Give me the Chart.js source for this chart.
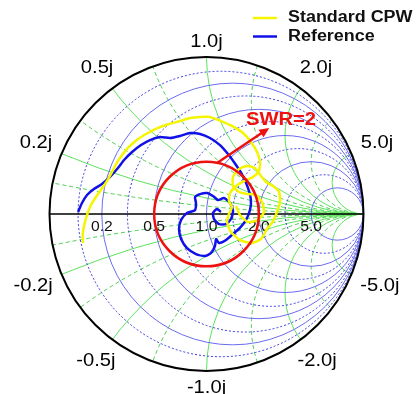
<!DOCTYPE html>
<html>
<head>
<meta charset="utf-8">
<script src="https://cdn.jsdelivr.net/npm/chart.js@4/dist/chart.umd.min.js"></script>
<style>
  html, body { margin: 0; padding: 0; background: #fff; }
  canvas { display: block; }
</style>
</head>
<body>
<canvas id="smith" width="417" height="394"></canvas>
<script>
// reflection coefficient traces (real / imaginary part of S11)
const cpwRe = [-0.787, -0.787, -0.767, -0.736, -0.691, -0.646, -0.608, -0.576, -0.538, -0.494,
  -0.436, -0.373, -0.309, -0.239, -0.169, -0.105, -0.041, 0.022, 0.092, 0.162,
  0.232, 0.283, 0.322, 0.341, 0.334, 0.296, 0.239, 0.188, 0.150, 0.143,
  0.162, 0.143, 0.131, 0.156, 0.213, 0.290, 0.347, 0.385, 0.424, 0.449,
  0.468, 0.462, 0.424, 0.379, 0.347, 0.309, 0.258, 0.207, 0.169, 0.169,
  0.207, 0.264, 0.315, 0.354, 0.366, 0.328, 0.264, 0.213, 0.188];
const cpwIm = [-0.185, -0.115, -0.025, 0.057, 0.127, 0.191, 0.255, 0.318, 0.376, 0.427,
  0.478, 0.516, 0.548, 0.573, 0.592, 0.611, 0.618, 0.618, 0.592, 0.561,
  0.516, 0.459, 0.395, 0.331, 0.274, 0.236, 0.210, 0.178, 0.134, 0.083,
  0.045, 0.000, -0.051, -0.115, -0.166, -0.185, -0.159, -0.096, -0.045, 0.013,
  0.076, 0.140, 0.178, 0.204, 0.242, 0.293, 0.306, 0.287, 0.236, 0.178,
  0.140, 0.127, 0.121, 0.076, 0.013, -0.038, -0.051, -0.006, 0.051];

const refRe = [-0.818, -0.793, -0.761, -0.717, -0.666, -0.615, -0.564, -0.525, -0.474, -0.417,
  -0.360, -0.296, -0.232, -0.169, -0.105, -0.041, 0.022, 0.086, 0.137, 0.188,
  0.232, 0.264, 0.283, 0.277, 0.252, 0.213, 0.169, 0.124, 0.080, 0.061,
  0.054, 0.029, -0.010, -0.067, -0.124, -0.162, -0.175, -0.162, -0.124, -0.073,
  -0.067, -0.073, -0.041, 0.003, 0.041, 0.073, 0.111, 0.150, 0.169, 0.156,
  0.124, 0.080, 0.048, 0.041, 0.067, 0.092];
const refIm = [0.013, 0.070, 0.121, 0.159, 0.191, 0.236, 0.293, 0.344, 0.395, 0.439,
  0.471, 0.490, 0.484, 0.497, 0.516, 0.510, 0.484, 0.439, 0.382, 0.312,
  0.242, 0.166, 0.089, 0.025, -0.038, -0.089, -0.127, -0.166, -0.185, -0.159,
  -0.204, -0.248, -0.268, -0.255, -0.217, -0.159, -0.096, -0.038, 0.006, 0.025,
  0.070, 0.108, 0.127, 0.134, 0.115, 0.089, 0.102, 0.070, 0.019, -0.032,
  -0.064, -0.064, -0.032, 0.006, 0.032, 0.013];

// grid values
const majorValues = [0.2, 0.5, 1.0, 2.0, 5.0];
const minorValues = [0.1, 0.33, 0.7, 1.4, 3.0];
const resistanceLabels = ['0.2', '0.5', '1.0', '2.0', '5.0'];
const reactanceLabels = ['0.2j', '0.5j', '1.0j', '2.0j', '5.0j'];
const reactanceNegLabels = ['-0.2j', '-0.5j', '-1.0j', '-2.0j', '-5.0j'];

// SWR annotation
const swrValue = 2;
const swrArrowAngle = 78;          // degrees, where the arrow leaves the circle
const swrArrowTip = { x: 0.40, y: 0.548 };

const STRETCH = 1.12;
function drawText(ctx, txt, x, y, font, color, align) {
  ctx.save();
  ctx.translate(x, y);
  ctx.scale(STRETCH, 1);
  ctx.font = font;
  ctx.fillStyle = color;
  ctx.textAlign = align || 'center';
  ctx.textBaseline = 'middle';
  ctx.fillText(txt, 0, 0);
  ctx.restore();
}

const smithGrid = {
  id: 'smithGrid',
  beforeDatasetsDraw(chart) {
    const { ctx, scales: { x: sx, y: sy } } = chart;
    const cx = sx.getPixelForValue(0), cy = sy.getPixelForValue(0);
    const R = sx.getPixelForValue(1) - cx;
    const px = v => sx.getPixelForValue(v), py = v => sy.getPixelForValue(v);

    ctx.save();
    ctx.beginPath();
    ctx.arc(cx, cy, R, 0, Math.PI * 2);
    ctx.clip();

    // constant resistance circles
    const rCircle = (r, dashed) => {
      const c = r / (1 + r), rad = 1 / (1 + r);
      ctx.beginPath();
      ctx.setLineDash(dashed ? [2, 2] : []);
      ctx.strokeStyle = dashed ? '#3a3ae0' : '#6b6bf0';
      ctx.lineWidth = 1;
      ctx.arc(px(c), cy, rad * R, 0, Math.PI * 2);
      ctx.stroke();
    };
    // constant reactance arcs
    const xArc = (x, dashed) => {
      ctx.beginPath();
      ctx.setLineDash(dashed ? [4, 3] : []);
      ctx.strokeStyle = dashed ? '#4ccf4c' : '#5de35d';
      ctx.lineWidth = 1;
      ctx.arc(px(1), py(1 / x), Math.abs(1 / x) * R, 0, Math.PI * 2);
      ctx.stroke();
    };
    minorValues.forEach(v => { xArc(v, true); xArc(-v, true); });
    majorValues.forEach(v => { xArc(v, false); xArc(-v, false); });
    minorValues.forEach(v => rCircle(v, true));
    majorValues.forEach(v => rCircle(v, false));
    ctx.restore();

    // real axis
    ctx.save();
    ctx.strokeStyle = '#000';
    ctx.lineWidth = 1.5;
    ctx.beginPath();
    ctx.moveTo(px(-1), cy);
    ctx.lineTo(px(1), cy);
    ctx.stroke();

    // outer boundary
    ctx.lineWidth = 2;
    ctx.beginPath();
    ctx.arc(cx, cy, R, 0, Math.PI * 2);
    ctx.stroke();
    ctx.restore();

    // resistance labels on the real axis
    majorValues.forEach((r, i) => {
      const g = (r - 1) / (r + 1);
      drawText(ctx, resistanceLabels[i], px(g), cy + 13, '14px "Liberation Sans", Arial', '#111');
    });

    // reactance labels outside the rim
    const font = '18px "Liberation Sans", Arial';
    ctx.font = font;
    const rimLabel = (x, txt) => {
      const th = Math.PI - 2 * Math.atan(x);
      const w = ctx.measureText(txt).width * STRETCH, h = 14;
      const c = Math.cos(th), s = Math.sin(th);
      const d = R + 10 + Math.abs(c) * w / 2 + Math.abs(s) * h / 2;
      drawText(ctx, txt, cx + c * d, cy - s * d + (s > 0.9 ? 2 : 0), font, '#000');
    };
    majorValues.forEach((x, i) => {
      rimLabel(x, reactanceLabels[i]);
      rimLabel(-x, reactanceNegLabels[i]);
    });
  },
  afterDatasetsDraw(chart) {
    const { ctx, scales: { x: sx, y: sy } } = chart;
    const cx = sx.getPixelForValue(0), cy = sy.getPixelForValue(0);
    const R = sx.getPixelForValue(1) - cx;
    const gmag = (swrValue - 1) / (swrValue + 1);

    ctx.save();
    ctx.strokeStyle = '#ee1111';
    ctx.fillStyle = '#ee1111';
    ctx.lineWidth = 2.5;
    ctx.beginPath();
    ctx.arc(cx, cy, gmag * R, 0, Math.PI * 2);
    ctx.stroke();

    // arrow pointing to the circle label
    const a = swrArrowAngle * Math.PI / 180;
    const x0 = cx + Math.cos(a) * gmag * R, y0 = cy - Math.sin(a) * gmag * R;
    const x1 = sx.getPixelForValue(swrArrowTip.x), y1 = sy.getPixelForValue(swrArrowTip.y);
    const ang = Math.atan2(y1 - y0, x1 - x0);
    ctx.beginPath();
    ctx.moveTo(x0, y0);
    ctx.lineTo(x1 - Math.cos(ang) * 6, y1 - Math.sin(ang) * 6);
    ctx.stroke();
    ctx.beginPath();
    ctx.moveTo(x1, y1);
    ctx.lineTo(x1 - Math.cos(ang) * 10 + Math.sin(ang) * 4.5, y1 - Math.sin(ang) * 10 - Math.cos(ang) * 4.5);
    ctx.lineTo(x1 - Math.cos(ang) * 10 - Math.sin(ang) * 4.5, y1 - Math.sin(ang) * 10 + Math.cos(ang) * 4.5);
    ctx.closePath();
    ctx.fill();
    ctx.restore();

    drawText(ctx, 'SWR=' + swrValue, 246, 120, 'bold 18px "Liberation Sans", Arial', '#ee1111', 'left');

    // legend
    chart.data.datasets.forEach((ds, i) => {
      const y = 18 + i * 18.5;
      ctx.save();
      ctx.strokeStyle = ds.borderColor;
      ctx.lineWidth = 2.5;
      ctx.beginPath();
      ctx.moveTo(253, y);
      ctx.lineTo(277, y);
      ctx.stroke();
      ctx.restore();
      drawText(ctx, ds.label, 288, y, 'bold 16px "Liberation Sans", Arial', '#111', 'left');
    });
  }
};

const toPoints = (re, im) => re.map((v, i) => ({ x: v, y: im[i] }));

new Chart(document.getElementById('smith'), {
  type: 'scatter',
  data: {
    datasets: [
      { label: 'Standard CPW', data: toPoints(cpwRe, cpwIm), showLine: true,
        borderColor: '#f5f500', borderWidth: 2.5, pointRadius: 0, tension: 0.2 },
      { label: 'Reference', data: toPoints(refRe, refIm), showLine: true,
        borderColor: '#1010e8', borderWidth: 2.5, pointRadius: 0, tension: 0.2 }
    ]
  },
  options: {
    responsive: false,
    animation: false,
    layout: { padding: { left: 49.5, right: 53.5, top: 57, bottom: 23 } },
    scales: {
      x: { type: 'linear', min: -1, max: 1, display: false },
      y: { type: 'linear', min: -1, max: 1, display: false }
    },
    plugins: { legend: { display: false }, tooltip: { enabled: false } }
  },
  plugins: [smithGrid]
});
</script>
</body>
</html>
